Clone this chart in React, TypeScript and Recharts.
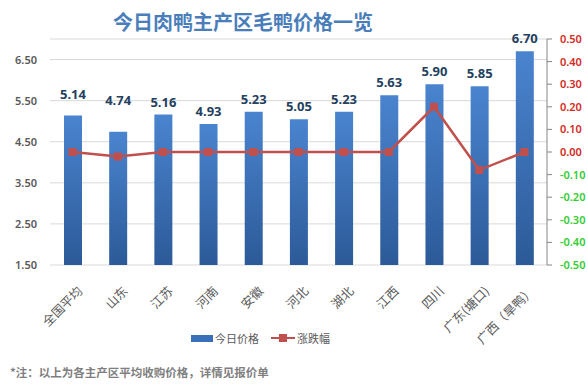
import { Bar, CartesianGrid, ComposedChart, Line, XAxis, YAxis } from 'recharts';

const categories = ['全国平均', '山东', '江苏', '河南', '安徽', '河北', '湖北', '江西', '四川', '广东(塘口)', '广西（旱鸭）'];
const prices = [5.14, 4.74, 5.16, 4.93, 5.23, 5.05, 5.23, 5.63, 5.9, 5.85, 6.7];
const changes = [0, -0.02, 0, 0, 0, 0, 0, 0, 0.2, -0.08, 0];
const leftTicks = [1.5, 2.5, 3.5, 4.5, 5.5, 6.5];
const rightTicks = [-0.5, -0.4, -0.3, -0.2, -0.1, 0, 0.1, 0.2, 0.3, 0.4, 0.5];

const data = categories.map((name, i) => ({ name, price: prices[i], change: changes[i] }));

const CJK = '"Noto Sans CJK SC", sans-serif';
const NUM = '"Noto Sans", "Noto Sans CJK SC", sans-serif';
const RED = '#c0504d';
// Excel nudged the first two value labels upward
const labelLift = [8, 19, 0, 0, 0, 0, 0, 0, 0, 0, 0];

function LeftTick({ y, payload }: any) {
  return (
    <text x={37} y={y} dy={4} textAnchor="end" fontFamily={NUM} fontSize={11} fontWeight={600} fill="#595959">
      {Number(payload.value).toFixed(2)}
    </text>
  );
}

function RightTick({ x, y, payload }: any) {
  const v = Number(payload.value);
  return (
    <text x={x + 6} y={y} dy={4} textAnchor="start" fontFamily={NUM} fontSize={11} fontWeight={600}
      fill={v < 0 ? '#33cc33' : '#d42a24'}>
      {v.toFixed(2)}
    </text>
  );
}

function XTick({ x, payload }: any) {
  return (
    <g transform={`translate(${x + 8},${289}) rotate(-45)`}>
      <text x={0} y={0} dy={4} textAnchor="end" fontFamily={CJK} fontSize={12.5} fill="#595959">
        {payload.value}
      </text>
    </g>
  );
}

function BarLabel({ x, y, width, value, index }: any) {
  return (
    <text x={x + width / 2} y={y - 8 - (labelLift[index] || 0)} textAnchor="middle" fontFamily={NUM}
      fontSize={13} fontWeight={700} fill="#243f60">
      {Number(value).toFixed(2)}
    </text>
  );
}

function SquareDot({ cx, cy }: any) {
  if (cx == null || cy == null) return null;
  return <rect x={cx - 4} y={cy - 4} width={8} height={8} fill={RED} />;
}

export default function App() {
  return (
    <div style={{ position: 'absolute', left: 0, top: 0, width: 588, height: 389, background: '#fff' }}>
      <div style={{ position: 'absolute', left: 0, width: 486, top: 8, textAlign: 'center', fontFamily: CJK,
        fontSize: 20, fontWeight: 700, color: '#4a7ebb', lineHeight: '28px' }}>
        今日肉鸭主产区毛鸭价格一览
      </div>
      <ComposedChart width={588} height={389} data={data} margin={{ top: 39, right: 0, bottom: 0, left: 0 }}>
        <defs>
          <linearGradient id="barGrad" x1="0" y1="0" x2="0" y2="1">
            <stop offset="0%" stopColor="#4a84cf" />
            <stop offset="100%" stopColor="#2c5a98" />
          </linearGradient>
        </defs>
        <CartesianGrid yAxisId="left" vertical={false} stroke="#d9d9d9" />
        <XAxis dataKey="name" height={124} interval={0} axisLine={false} tickLine={false} tick={<XTick />} />
        <YAxis yAxisId="left" width={50} domain={[1.5, 7]} ticks={leftTicks} interval={0} axisLine={false}
          tickLine={false} tick={<LeftTick />} />
        <YAxis yAxisId="right" orientation="right" width={41} domain={[-0.5, 0.5]} ticks={rightTicks} interval={0}
          axisLine={{ stroke: '#868686' }} tickLine={{ stroke: '#868686' }} tickSize={5} tick={<RightTick />} />
        <Bar yAxisId="left" dataKey="price" barSize={18} fill="url(#barGrad)" isAnimationActive={false}
          label={<BarLabel />} />
        <Line yAxisId="right" dataKey="change" type="linear" stroke={RED} strokeWidth={2.5}
          dot={<SquareDot />} activeDot={false} isAnimationActive={false} />
      </ComposedChart>
      <div style={{ position: 'absolute', top: 331, left: 191, display: 'flex', alignItems: 'center',
        fontFamily: CJK, fontSize: 11, color: '#595959', lineHeight: '14px' }}>
        <span style={{ display: 'inline-block', width: 22, height: 7, background: '#3a70b8' }} />
        <span style={{ marginLeft: 2 }}>今日价格</span>
        <svg width={24} height={10} style={{ marginLeft: 12 }}>
          <line x1={0} y1={5} x2={24} y2={5} stroke={RED} strokeWidth={2} />
          <rect x={8} y={1} width={8} height={8} fill={RED} />
        </svg>
        <span style={{ marginLeft: 2 }}>涨跌幅</span>
      </div>
      <div style={{ position: 'absolute', top: 364, left: 10, fontFamily: CJK, fontSize: 11.5, fontWeight: 700,
        color: '#7f7f7f', lineHeight: '16px' }}>
        *注：以上为各主产区平均收购价格，详情见报价单
      </div>
    </div>
  );
}
